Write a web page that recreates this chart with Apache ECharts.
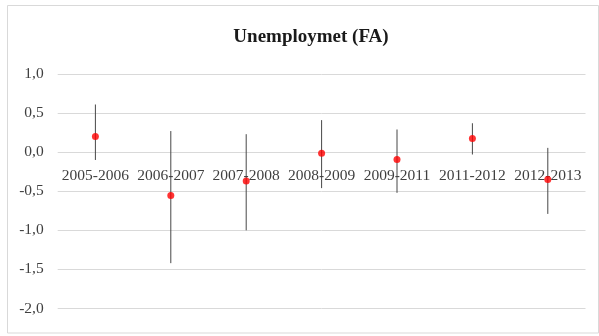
<!DOCTYPE html>
<html>
<head>
<meta charset="utf-8">
<script src="https://cdn.jsdelivr.net/npm/echarts@6/dist/echarts.min.js"></script>
<style>
  html, body { margin: 0; padding: 0; background: #fff; }
  #chart { width: 599px; height: 336px; }
</style>
</head>
<body>
<div id="chart"></div>
<script>
// Period labels on the horizontal axis
const periods = ['2005-2006', '2006-2007', '2007-2008', '2008-2009', '2009-2011', '2011-2012', '2012-2013'];
// Point estimates (red dots)
const estimates = [0.20, -0.555, -0.37, -0.013, -0.094, 0.176, -0.35];
// Interval bounds (vertical whiskers)
const lowerBounds = [-0.10, -1.42, -1.00, -0.46, -0.52, -0.03, -0.79];
const upperBounds = [0.61, 0.27, 0.23, 0.41, 0.29, 0.37, 0.055];
// Value axis settings
const yMin = -2, yMax = 1, yStep = 0.5;

const serif = '"Liberation Serif", "DejaVu Serif", serif';

const whiskerData = periods.map((p, i) => [i, lowerBounds[i], upperBounds[i]]);
const pointData = periods.map((p, i) => [i, estimates[i]]);

const chart = echarts.init(document.getElementById('chart'), null, { renderer: 'canvas' });

chart.setOption({
  animation: false,
  backgroundColor: '#ffffff',
  title: {
    text: 'Unemploymet (FA)',
    left: 306,
    top: 23,
    textAlign: 'center',
    textStyle: { fontFamily: serif, fontSize: 19, fontWeight: 'bold', color: '#1a1a1a' }
  },
  graphic: [{
    type: 'rect',
    shape: { x: 7.5, y: 5.5, width: 591, height: 327.5 },
    style: { fill: 'none', stroke: '#d9d9d9', lineWidth: 1 },
    silent: true
  }],
  grid: { left: 57.7, right: 13.5, top: 74, bottom: 27.5, containLabel: false },
  xAxis: {
    type: 'category',
    data: periods,
    z: 2,
    boundaryGap: true,
    axisLine: { show: false, onZero: true },
    axisTick: { show: false },
    splitLine: { show: false },
    axisLabel: {
      interval: 0,
      margin: 14,
      fontFamily: serif,
      fontSize: 15.5,
      color: '#404040'
    }
  },
  yAxis: {
    type: 'value',
    min: yMin,
    max: yMax,
    interval: yStep,
    z: 0,
    axisLine: { show: false },
    axisTick: { show: false },
    splitLine: { lineStyle: { color: '#d9d9d9', width: 1 } },
    axisLabel: {
      margin: 14,
      fontFamily: serif,
      fontSize: 15.5,
      color: '#404040',
      formatter: v => v.toFixed(1).replace('.', ',')
    }
  },
  series: [
    {
      type: 'custom',
      z: 1,
      data: whiskerData,
      encode: { x: 0, y: [1, 2] },
      renderItem: function (params, api) {
        const x = api.value(0);
        const lo = api.coord([x, api.value(1)]);
        const hi = api.coord([x, api.value(2)]);
        return {
          type: 'line',
          shape: { x1: lo[0], y1: lo[1], x2: hi[0], y2: hi[1] },
          style: { stroke: '#474747', lineWidth: 1 }
        };
      }
    },
    {
      type: 'scatter',
      z: 3,
      data: pointData,
      symbol: 'circle',
      symbolSize: 7,
      itemStyle: { color: '#ff0000' }
    }
  ]
});

// Keep the category labels hanging just under the zero line
const zeroPx = chart.convertToPixel({ yAxisIndex: 0 }, 0);
const bottomPx = chart.convertToPixel({ yAxisIndex: 0 }, yMin);
chart.setOption({ xAxis: { offset: -(bottomPx - zeroPx) } });
</script>
</body>
</html>
